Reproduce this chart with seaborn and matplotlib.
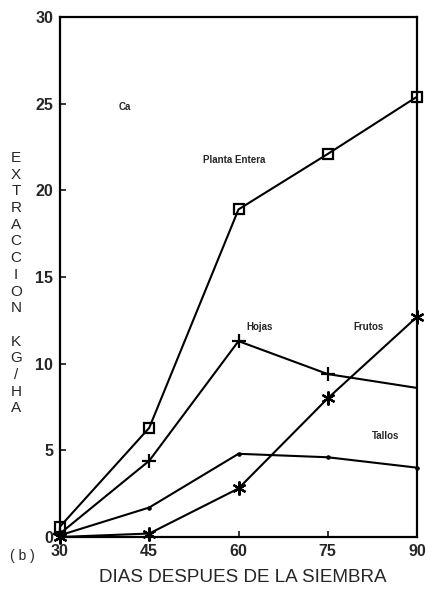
import matplotlib
matplotlib.use("Agg")
import matplotlib.pyplot as plt
import seaborn as sns
import pandas as pd

sns.set_style("ticks")
plt.rcParams['font.family'] = ['Liberation Sans', 'DejaVu Sans']

dias = [30, 45, 60, 75, 90]
planta_entera = [0.6, 6.3, 18.9, 22.1, 25.4]
hojas = [0.2, 4.4, 11.3, 9.4, 8.6]
frutos = [0.0, 0.2, 2.8, 8.0, 12.7]
tallos = [0.1, 1.7, 4.8, 4.6, 4.0]

x_ticks = [30, 45, 60, 75, 90]
y_ticks = [0, 5, 10, 15, 20, 25, 30]

fig = plt.figure(figsize=(4.29, 5.97), dpi=100)
ax = fig.add_axes([60/429, 60/597, 357/429, 520/597])

series = [
    (planta_entera, dict(marker='s', markersize=7, markerfacecolor='none', markeredgewidth=1.6)),
    (hojas, dict(marker='+', markersize=10, markeredgewidth=1.6, markevery=[0, 1, 2, 3])),
    (frutos, dict(marker=(6, 2, 0), markersize=10, markeredgewidth=1.6)),
    (tallos, dict(marker='o', markersize=2.5)),
]
for vals, kw in series:
    df = pd.DataFrame({'dias': dias, 'val': vals})
    sns.lineplot(data=df, x='dias', y='val', ax=ax, color='black', linewidth=1.5,
                 markeredgecolor='black', clip_on=False, **kw)

ax.set_xlim(30, 90)
ax.set_ylim(0, 30)
ax.set_xticks(x_ticks)
ax.set_yticks(y_ticks)
ax.tick_params(direction='in', length=4, width=1.3, labelsize=11.5, pad=5)
for lab in ax.get_xticklabels() + ax.get_yticklabels():
    lab.set_fontweight('bold')
for s in ax.spines.values():
    s.set_visible(True)
    s.set_linewidth(1.6)
    s.set_color('black')
ax.set_xlabel('')
ax.set_ylabel('')

lab_kw = dict(fontsize=7, fontweight='bold', ha='center', va='center')
ax.text(40.9, 24.8, 'Ca', **lab_kw)
ax.text(59.2, 21.75, 'Planta Entera', **lab_kw)
ax.text(63.6, 12.1, 'Hojas', **lab_kw)
ax.text(81.8, 12.1, 'Frutos', **lab_kw)
ax.text(84.8, 5.8, 'Tallos', **lab_kw)

fig.text(243/429, 1 - 578/597, 'DIAS DESPUES DE LA SIEMBRA', ha='center', va='center', fontsize=13.6)
fig.text(22/429, 1 - 556/597, '( b )', ha='center', va='center', fontsize=10)

ylabel = 'EXTRACCION KG/HA'
for i, ch in enumerate(ylabel):
    if ch == ' ':
        continue
    fig.text(16/429, 1 - (158 + i*16.7)/597, ch, ha='center', va='center', fontsize=11)

fig.savefig('out.png', dpi=100)
